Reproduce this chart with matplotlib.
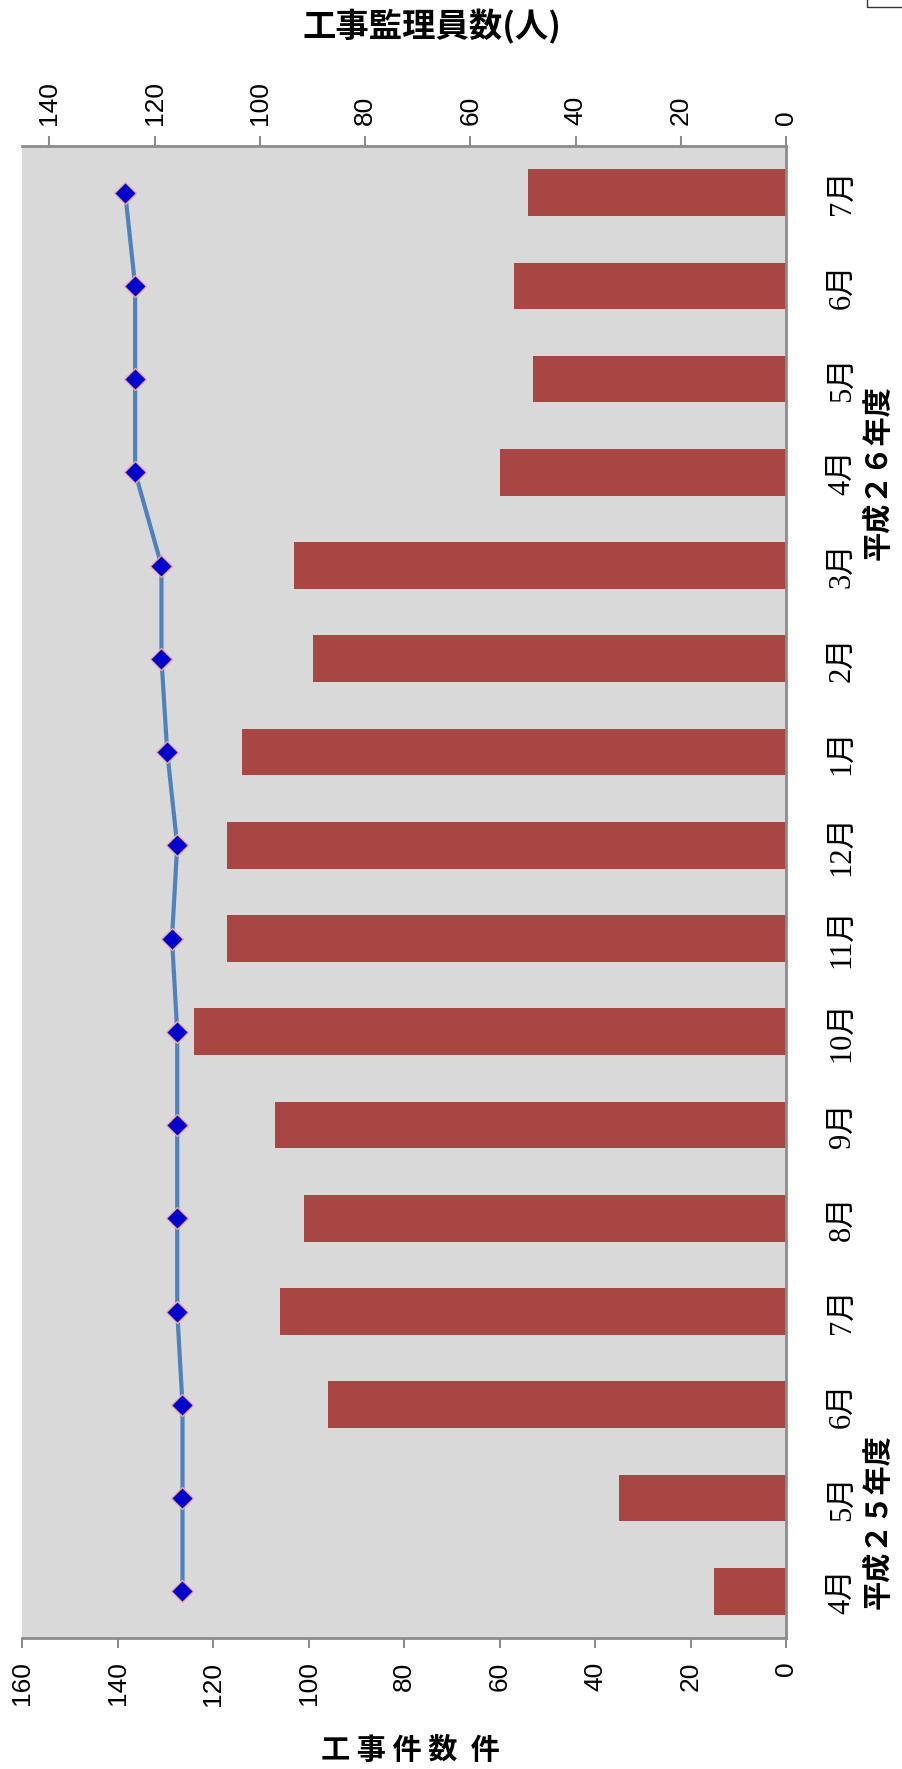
import matplotlib
matplotlib.use('Agg')
import matplotlib.pyplot as plt
from matplotlib.patches import Rectangle

months = ['4月', '5月', '6月', '7月', '8月', '9月', '10月', '11月', '12月',
          '1月', '2月', '3月', '4月', '5月', '6月', '7月']
works = [15, 35, 96, 106, 101, 107, 124, 117, 117, 114, 99, 103, 60, 53, 57, 54]
staff = [114.7, 114.7, 114.7, 115.7, 115.7, 115.7, 115.7, 116.7, 115.7,
         117.6, 118.7, 118.7, 123.7, 123.7, 123.7, 125.6]
work_ticks = [0, 20, 40, 60, 80, 100, 120, 140, 160]
staff_ticks = [0, 20, 40, 60, 80, 100, 120, 140]
year_labels = ['平成２５年度', '平成２６年度']
year_pos = [0.75, 12]

cjk = ['Noto Sans CJK JP', 'DejaVu Sans']
serif = ['Liberation Serif', 'Noto Sans CJK JP']
num = ['Liberation Sans', 'DejaVu Sans']
axis_grey = '#8c8c8c'

fig = plt.figure(figsize=(9.02, 17.69), dpi=100)
ax = fig.add_axes([0.0244, 0.0741, 0.8470, 0.8434])
ax.set_facecolor('#d9d9d9')

y = list(range(len(months)))
ax.barh(y, works, height=0.5, color='#a84644', zorder=2)
ax.set_xlim(160, 0)
ax.set_ylim(-0.5, len(months) - 0.5)
ax.set_xticks(work_ticks)
ax.set_xticklabels([str(t) for t in work_ticks], rotation=90, fontsize=19, family=num)
ax.tick_params(axis='x', direction='out', length=7, width=1.5, color=axis_grey, pad=10)

# month labels sit on the right, reading bottom to top
ax.yaxis.tick_right()
ax.set_yticks(y)
ax.set_yticklabels(months, rotation=90, fontsize=22, family=serif, va='center')
ax.tick_params(axis='y', length=0, pad=30)

for s in ['left', 'top']:
    ax.spines[s].set_visible(False)
for s in ['bottom', 'right']:
    ax.spines[s].set_color(axis_grey)
    ax.spines[s].set_linewidth(2)

ax2 = ax.twiny()
ax2.plot(staff, y, color='#4f81bd', linewidth=3, marker='D', markersize=11,
         markerfacecolor='#0000cc', markeredgecolor='#f0a8a0', markeredgewidth=1, zorder=3)
ax2.set_xlim(145.2, 0)
ax2.set_xticks(staff_ticks)
ax2.set_xticklabels([str(t) for t in staff_ticks], rotation=90, fontsize=19, family=num)
ax2.tick_params(axis='x', direction='out', length=7, width=1.5, color=axis_grey, pad=8)
for s in ['left', 'right', 'bottom']:
    ax2.spines[s].set_visible(False)
ax2.spines['top'].set_color(axis_grey)
ax2.spines['top'].set_linewidth(2)

for label, pos in zip(year_labels, year_pos):
    ax.text(1.12, pos, label, transform=ax.get_yaxis_transform(), rotation=90,
            ha='center', va='center', fontsize=21, fontweight='bold', family=cjk)

fig.text(0.479, 0.985, '工事監理員数(人)', ha='center', va='center',
         fontsize=24, fontweight='bold', family=cjk)
fig.text(0.455, 0.0107, '工 事 件 数  件', ha='center', va='center',
         fontsize=21, fontweight='bold', family=cjk)

fig.patches.append(Rectangle((0.9612, 0.99604), 0.05, 0.01, transform=fig.transFigure,
                             fill=False, edgecolor='#333333', linewidth=1))

fig.savefig('out.png', dpi=100)
